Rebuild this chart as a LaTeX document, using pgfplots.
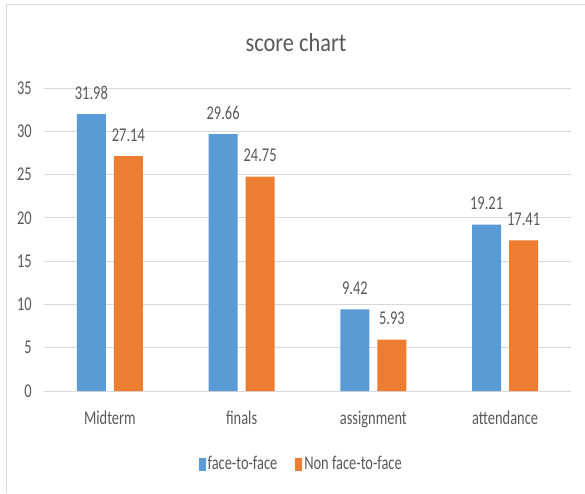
\documentclass[border=0pt]{standalone}
\usepackage{fontspec}
\setmainfont{Carlito}[FakeStretch=0.74]
\newfontfamily\titlefont{Carlito}[FakeStretch=0.86]
\usepackage{pgfplots}
\pgfplotsset{compat=1.18}
\definecolor{cblue}{HTML}{5B9BD5}
\definecolor{corange}{HTML}{ED7D31}
\definecolor{cgrid}{HTML}{D9D9D9}
\definecolor{ctext}{HTML}{595959}
\begin{document}
\begin{tikzpicture}[x=1pt,y=1pt]
\draw[cgrid, line width=1pt] (6,0) -- (6,488) -- (585,488);
\node[anchor=base, text=ctext, font=\titlefont\fontsize{26}{30}\selectfont, inner sep=0pt] at (296,441) {score chart};
\begin{axis}[
  at={(44pt,102pt)}, anchor=south west,
  scale only axis, width=527pt, height=303pt,
  ybar=8pt, bar width=29pt,
  xmin=-0.5, xmax=3.5, ymin=0, ymax=35,
  ytick={0,5,...,35},
  xtick=data,
  xticklabels={Midterm, finals, assignment, attendance},
  axis line style={draw=none},
  major tick length=0pt,
  ymajorgrids, grid style={cgrid, line width=0.9pt},
  /pgf/number format/assume math mode=true,
  tick label style={text=ctext, font=\fontsize{19.5}{22}\selectfont},
  yticklabel style={inner sep=0pt, xshift=-12pt},
  xticklabel style={inner sep=0pt, yshift=-20pt},
  nodes near coords,
  nodes near coords style={text=ctext, font=\fontsize{19.5}{22}\selectfont, anchor=base, inner sep=0pt, yshift=15pt, /pgf/number format/.cd, fixed, precision=2, fixed zerofill},
  legend columns=2,
  legend style={at={(0.488,-0.241)}, anchor=center, draw=none, fill=none,
    font=\fontsize{19.5}{22}\selectfont, text=ctext,
    /tikz/every even column/.append style={column sep=16pt}},
  legend image code/.code={\fill[#1] (0pt,-6.5pt) rectangle (7pt,6.5pt);},
]
\addplot[fill=cblue, draw=none] coordinates {(0,31.98) (1,29.66) (2,9.42) (3,19.21)};
\addplot[fill=corange, draw=none] coordinates {(0,27.14) (1,24.75) (2,5.93) (3,17.41)};
\legend{face-to-face, Non face-to-face}
\end{axis}
\pgfresetboundingbox
\useasboundingbox (0,0) rectangle (585,493);
\end{tikzpicture}
\end{document}
